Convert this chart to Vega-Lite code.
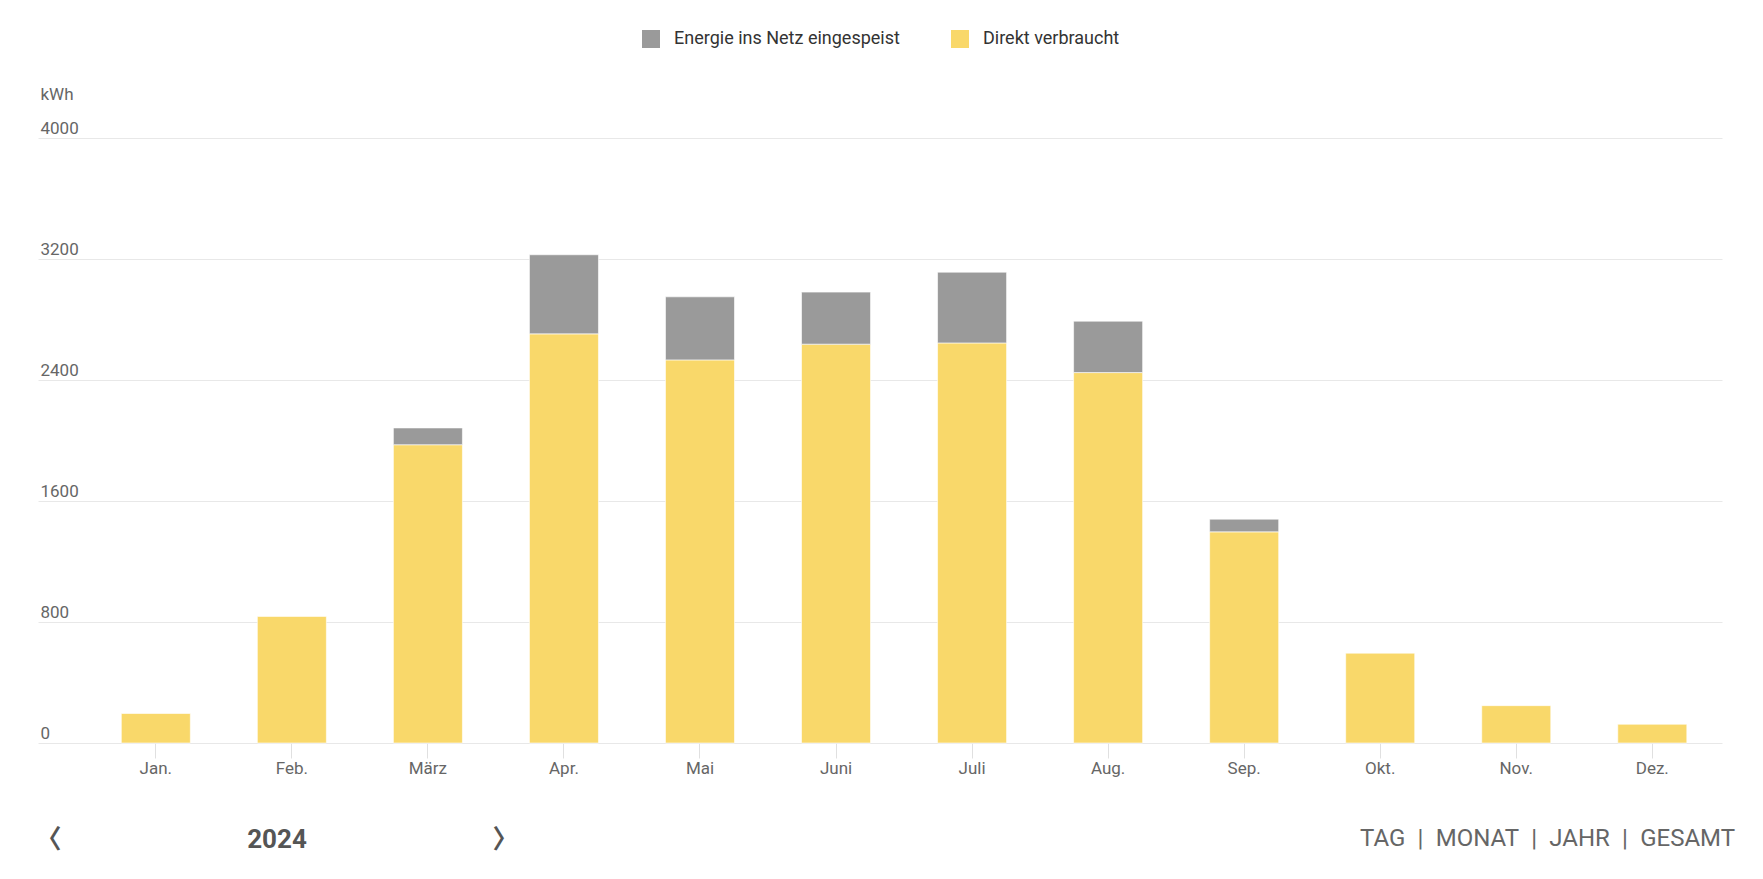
{
  "$schema": "https://vega.github.io/schema/vega-lite/v6.json",
  "width": 1684,
  "height": 605,
  "autosize": {"type": "none"},
  "padding": {"left": 38, "top": 138, "right": 41, "bottom": 136},
  "background": "#ffffff",
  "config": {"view": {"stroke": null}, "font": "Roboto"},
  "title": {
    "text": "TAG\u2002|\u2002MONAT\u2002|\u2002JAHR\u2002|\u2002GESAMT",
    "orient": "bottom",
    "anchor": "end",
    "frame": "group",
    "font": "Roboto",
    "fontSize": 24,
    "fontWeight": "normal",
    "color": "#666666",
    "dx": 13,
    "offset": -25
  },
  "data": {
    "values": [
      {"month": "Jan.", "series": "Direkt verbraucht", "kWh": 195},
      {"month": "Feb.", "series": "Direkt verbraucht", "kWh": 837},
      {"month": "März", "series": "Direkt verbraucht", "kWh": 1972},
      {"month": "Apr.", "series": "Direkt verbraucht", "kWh": 2705},
      {"month": "Mai", "series": "Direkt verbraucht", "kWh": 2533},
      {"month": "Juni", "series": "Direkt verbraucht", "kWh": 2637},
      {"month": "Juli", "series": "Direkt verbraucht", "kWh": 2645},
      {"month": "Aug.", "series": "Direkt verbraucht", "kWh": 2449},
      {"month": "Sep.", "series": "Direkt verbraucht", "kWh": 1396},
      {"month": "Okt.", "series": "Direkt verbraucht", "kWh": 594},
      {"month": "Nov.", "series": "Direkt verbraucht", "kWh": 247},
      {"month": "Dez.", "series": "Direkt verbraucht", "kWh": 124},
      {"month": "März", "series": "Energie ins Netz eingespeist", "kWh": 111},
      {"month": "Apr.", "series": "Energie ins Netz eingespeist", "kWh": 523},
      {"month": "Mai", "series": "Energie ins Netz eingespeist", "kWh": 417},
      {"month": "Juni", "series": "Energie ins Netz eingespeist", "kWh": 344},
      {"month": "Juli", "series": "Energie ins Netz eingespeist", "kWh": 468},
      {"month": "Aug.", "series": "Energie ins Netz eingespeist", "kWh": 340},
      {"month": "Sep.", "series": "Energie ins Netz eingespeist", "kWh": 84}
    ]
  },
  "mark": {"type": "bar", "stroke": "#ffffff", "strokeWidth": 1, "strokeOpacity": 0.6},
  "encoding": {
    "x": {
      "field": "month",
      "type": "nominal",
      "sort": ["Jan.", "Feb.", "März", "Apr.", "Mai", "Juni", "Juli", "Aug.", "Sep.", "Okt.", "Nov.", "Dez."],
      "scale": {"paddingInner": 0.4926, "paddingOuter": 0.4355, "align": 0.703},
      "axis": {
        "title": "\u3008\u2003\u2003\u2003\u2003\u2003\u2003\u20032024\u2003\u2003\u2003\u2003\u2003\u2003\u2003\u3009",
        "titleFont": "Roboto, Noto Sans CJK SC",
        "titleFontSize": 26,
        "titleFontWeight": "bold",
        "titleColor": "#555555",
        "titleAnchor": "start",
        "titleAlign": "left",
        "titleBaseline": "alphabetic",
        "titleX": -3,
        "titleY": 104,
        "domain": false,
        "grid": false,
        "ticks": true,
        "tickSize": 15,
        "tickColor": "#e0e0e0",
        "tickWidth": 1,
        "labelAngle": 0,
        "labelFont": "Roboto",
        "labelFontSize": 17,
        "labelColor": "#666666",
        "labelBaseline": "alphabetic",
        "labelPadding": 15
      }
    },
    "y": {
      "field": "kWh",
      "type": "quantitative",
      "stack": "zero",
      "scale": {"domain": [0, 4000], "nice": false},
      "axis": {
        "values": [0, 800, 1600, 2400, 3200, 4000],
        "format": "d",
        "title": "kWh",
        "titleAngle": 0,
        "titleAlign": "left",
        "titleBaseline": "alphabetic",
        "titleX": 2,
        "titleY": -39,
        "titleFont": "Roboto",
        "titleFontSize": 17,
        "titleFontWeight": "normal",
        "titleColor": "#666666",
        "domain": false,
        "ticks": false,
        "tickSize": 0,
        "grid": true,
        "gridColor": "#e8e8e8",
        "gridWidth": 1,
        "labelAlign": "left",
        "labelBaseline": "alphabetic",
        "labelPadding": -2,
        "labelOffset": -5,
        "labelFlush": false,
        "labelFont": "Roboto",
        "labelFontSize": 17,
        "labelColor": "#666666"
      }
    },
    "color": {
      "field": "series",
      "type": "nominal",
      "scale": {
        "domain": ["Energie ins Netz eingespeist", "Direkt verbraucht"],
        "range": ["#9a9a9a", "#f9d86a"]
      },
      "legend": {
        "orient": "none",
        "legendX": 604,
        "legendY": -108,
        "direction": "horizontal",
        "title": null,
        "padding": 0,
        "symbolType": "square",
        "symbolSize": 324,
        "symbolStrokeWidth": 0,
        "symbolOpacity": 1,
        "labelOffset": 14,
        "columnPadding": 51,
        "labelFont": "Roboto",
        "labelFontSize": 18,
        "labelColor": "#333333",
        "labelLimit": 0
      }
    },
    "order": {"field": "series", "sort": "ascending"}
  }
}
